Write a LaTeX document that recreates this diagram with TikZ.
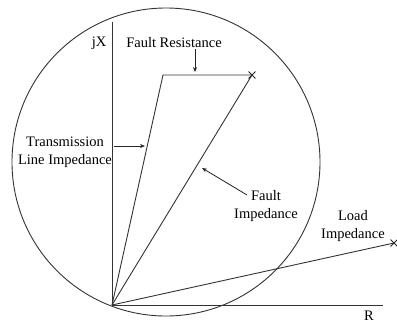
\documentclass[tikz,border=0pt]{standalone}
\usepackage{fontspec}
\setmainfont{Liberation Serif}
\usetikzlibrary{arrows.meta,shapes.misc}
\begin{document}
\begin{tikzpicture}[x=1pt,y=-1pt,
  line/.style={draw=black!80,line width=0.9pt},
  ptr/.style={draw=black!85,line width=0.8pt,-{Stealth[length=5pt,width=4pt]}},
  lbl/.style={font=\fontsize{14.5}{18}\selectfont,align=center,inner sep=0pt,text=black},
  xmark/.style={cross out,draw=black!85,line width=0.9pt,minimum size=6pt,inner sep=0pt}]
\useasboundingbox (0,0) rectangle (397,325);
\coordinate (O) at (112,305);
\coordinate (C) at (166,162);
\coordinate (Ytop) at (112,22);
\coordinate (Xend) at (383,305);
\coordinate (A) at (163,75);
\node[xmark] (F) at (252,75) {};
\node[xmark] (L) at (394,243) {};
% circle
\draw[line] (C) circle[radius=154];
% axes
\draw[line] (Ytop) -- (O) -- (Xend);
\node[lbl] (jx) at (99,43) {jX};
\node[lbl] (r) at (369,316) {R};
% impedance lines
\draw[line] (O) -- (A) -- (F.center);
\draw[line] (O) -- (F.center);
\draw[line] (O) -- (L.center);
% labels
\node[lbl] (fr) at (174,43) {Fault Resistance};
\coordinate (frt) at (195,49);
\coordinate (frh) at (195,72);
\draw[ptr] (frt) -- (frh);
\node[lbl] (tl) at (65,152) {Transmission\\Line Impedance};
\coordinate (tlt) at (114,146);
\coordinate (tlh) at (145,146);
\draw[ptr] (tlt) -- (tlh);
\node[lbl] (fi) at (266,206) {Fault\\Impedance};
\coordinate (fit) at (247,195);
\coordinate (fih) at (202,168);
\draw[ptr] (fit) -- (fih);
\node[lbl] (li) at (353,226) {Load\\Impedance};
\end{tikzpicture}
\end{document}
